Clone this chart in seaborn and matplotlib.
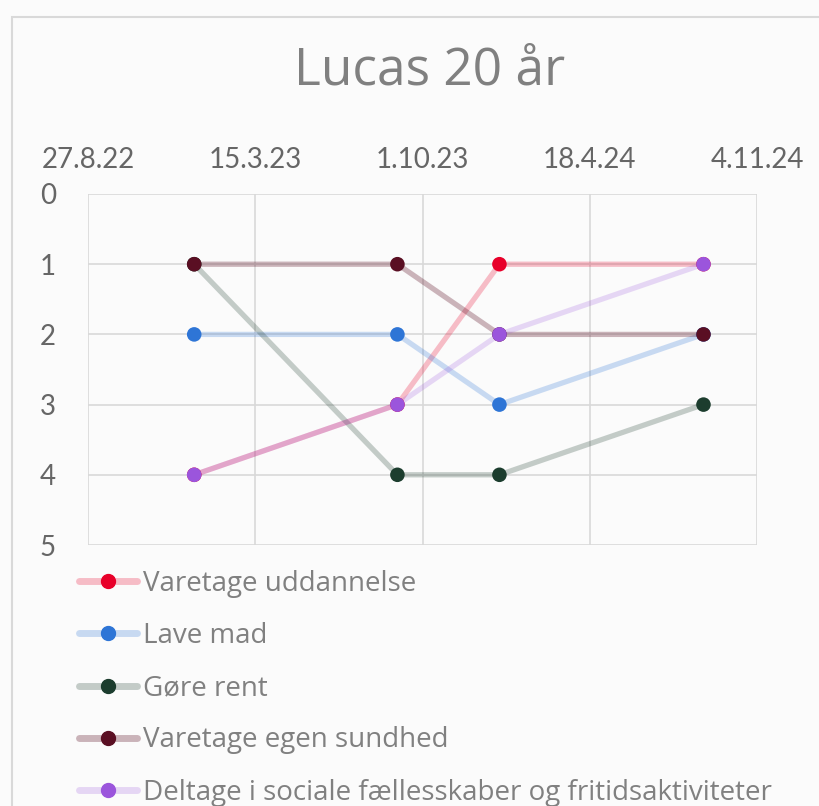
import matplotlib
matplotlib.use('Agg')
import matplotlib.pyplot as plt
import matplotlib.dates as mdates
from matplotlib.lines import Line2D
from matplotlib.patches import Rectangle
from matplotlib.ticker import FuncFormatter
import pandas as pd
import seaborn as sns

# data
dates = ['2023-01-01', '2023-09-01', '2024-01-01', '2024-09-01']
series_names = ['Varetage uddannelse', 'Lave mad', 'Gøre rent',
                'Varetage egen sundhed',
                'Deltage i sociale fællesskaber og fritidsaktiviteter']
uddannelse = [4, 3, 1, 1]
lave_mad = [2, 2, 3, 2]
gore_rent = [1, 4, 4, 3]
sundhed = [1, 1, 2, 2]
sociale = [4, 3, 2, 1]
title = 'Lucas 20 år'
x_start, x_end = '2022-08-27', '2024-11-04'

colors = ['#E8002A', '#2E75D6', '#1C3D2E', '#5A0F23', '#9B55DC']
line_alpha = [0.25, 0.25, 0.25, 0.3, 0.22]

values = [uddannelse, lave_mad, gore_rent, sundhed, sociale]
df = pd.DataFrame({
    'dato': pd.to_datetime(dates * len(series_names)),
    'serie': [n for n in series_names for _ in dates],
    'niveau': [v for vals in values for v in vals],
})

sns.set_style('white')
plt.rcParams['font.family'] = ['Lato', 'DejaVu Sans']

fig = plt.figure(figsize=(8.19, 8.06), dpi=100, facecolor='#FBFBFB')
fig.patches.append(Rectangle((12 / 819, -0.1), 1.1, 1 - 17 / 806 + 0.1,
                             transform=fig.transFigure, fill=False,
                             edgecolor='#D9D9D9', linewidth=1.5))
ax = fig.add_axes([88 / 819, 1 - 545 / 806, (757 - 88) / 819, (545 - 194) / 806])
ax.set_facecolor('none')

for name, c, a in zip(series_names, colors, line_alpha):
    sub = df[df['serie'] == name]
    sns.lineplot(data=sub, x='dato', y='niveau', color=c, alpha=a,
                 linewidth=3.8, ax=ax, legend=False, zorder=2)
    sns.scatterplot(data=sub, x='dato', y='niveau', color=c, s=110,
                    edgecolor='none', ax=ax, legend=False, zorder=3)

ax.set_xlim(pd.Timestamp(x_start), pd.Timestamp(x_end))
ax.set_ylim(5, 0)
ax.set_yticks(range(0, 6))
x0 = mdates.date2num(pd.Timestamp(x_start))
ax.set_xticks([x0 + 200 * i for i in range(5)])
ax.xaxis.set_major_formatter(FuncFormatter(
    lambda v, p: '{}.{}.{}'.format(mdates.num2date(v).day, mdates.num2date(v).month,
                                   mdates.num2date(v).strftime('%y'))))
ax.xaxis.tick_top()
ax.set_xlabel('')
ax.set_ylabel('')
ax.grid(True, color='#D9D9D9', linewidth=1.2)
for s in ax.spines.values():
    s.set_visible(False)
ax.tick_params(axis='x', length=0, pad=15, labelsize=20, labelcolor='#666666')
ax.tick_params(axis='y', length=0, pad=29, labelsize=20, labelcolor='#666666')
for t in ax.get_yticklabels():
    t.set_horizontalalignment('center')

fig.text(0.525, 1 - 71 / 806, title, ha='center', va='center', fontsize=37,
         color='#808080', family='Open Sans')

handles = []
for c, a in zip(colors, line_alpha):
    rgba = matplotlib.colors.to_rgba(c)
    handles.append(Line2D([], [], color=(rgba[0], rgba[1], rgba[2], a), linewidth=5,
                          marker='o', markersize=10, markerfacecolor=c,
                          markeredgecolor=c))
leg = fig.legend(handles, series_names, loc='upper left',
                 bbox_to_anchor=(79 / 819, 1 - 570 / 806), frameon=False,
                 handlelength=2.1, handletextpad=0.2,
                 labelspacing=0.87, borderaxespad=0, borderpad=0,
                 prop={'family': 'Open Sans', 'size': 20})
for t in leg.get_texts():
    t.set_color('#808080')

fig.savefig('out.png', dpi=100, facecolor=fig.get_facecolor())
